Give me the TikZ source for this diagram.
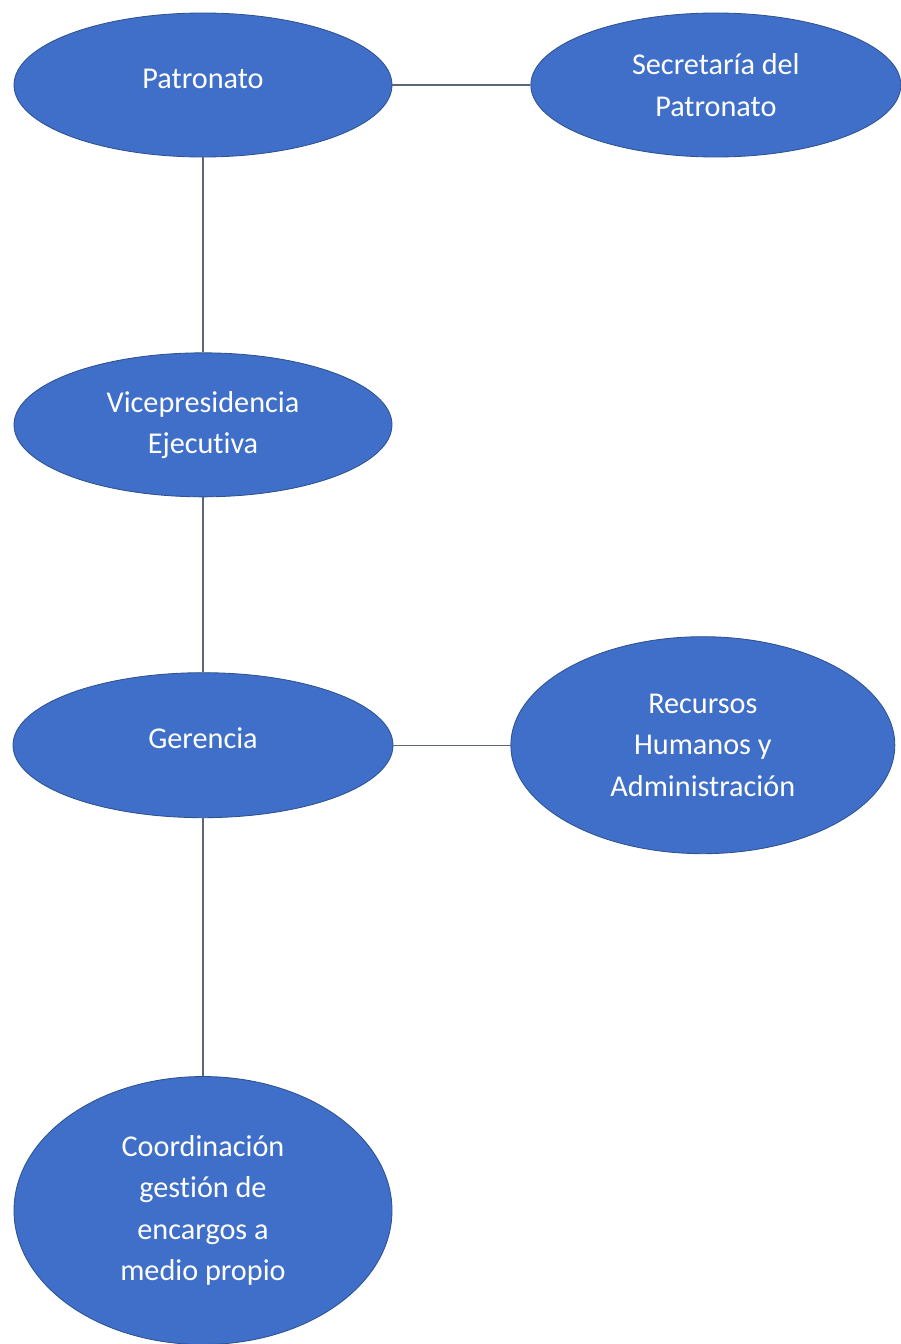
\documentclass[tikz,border=0pt]{standalone}
\usepackage{fontspec}
\setmainfont{Carlito}[Ligatures={NoCommon}]
\usetikzlibrary{shapes.geometric, positioning}
\definecolor{azul}{HTML}{3F6FC8}
\definecolor{borde}{HTML}{2F528F}
\definecolor{linea}{HTML}{5B6678}

\begin{document}
\begin{tikzpicture}[organo/.style={ellipse, draw=borde, line width=0.6pt, fill=azul, text=white, align=center, inner sep=0pt, minimum width=9.45cm, minimum height=3.6cm, font=\fontsize{21.5}{29.5}\selectfont}, enlace/.style={draw=linea, line width=0.9pt}]
	\useasboundingbox (-5.075,2.125) rectangle (17.45,-31.475);
	\node[organo] (pat) {\raisebox{0.33cm}{Patronato}};
	\node[organo, right=3.45cm of pat, minimum width=9.25cm] (sec) {Secretaría del\\Patronato};
	\node[organo, below=4.875cm of pat] (vic) {Vicepresidencia\\Ejecutiva};
	\node[organo, below=4.375cm of vic, minimum width=9.5cm, minimum height=3.625cm] (ger) {\raisebox{0.35cm}{Gerencia}};
	\node[organo, right=2.925cm of ger, minimum width=9.6cm, minimum height=5.425cm] (rec) {Recursos\\Humanos y\\Administración};
	\node[organo, below=6.45cm of ger, minimum height=6.7cm] (coo) {Coordinación\\gestión de\\encargos a\\medio propio};
	\draw[enlace] (pat) -- (sec);
	\draw[enlace] (pat) -- (vic);
	\draw[enlace] (vic) -- (ger);
	\draw[enlace] (ger) -- (rec);
	\draw[enlace] (ger) -- (coo);
\end{tikzpicture}
\end{document}
